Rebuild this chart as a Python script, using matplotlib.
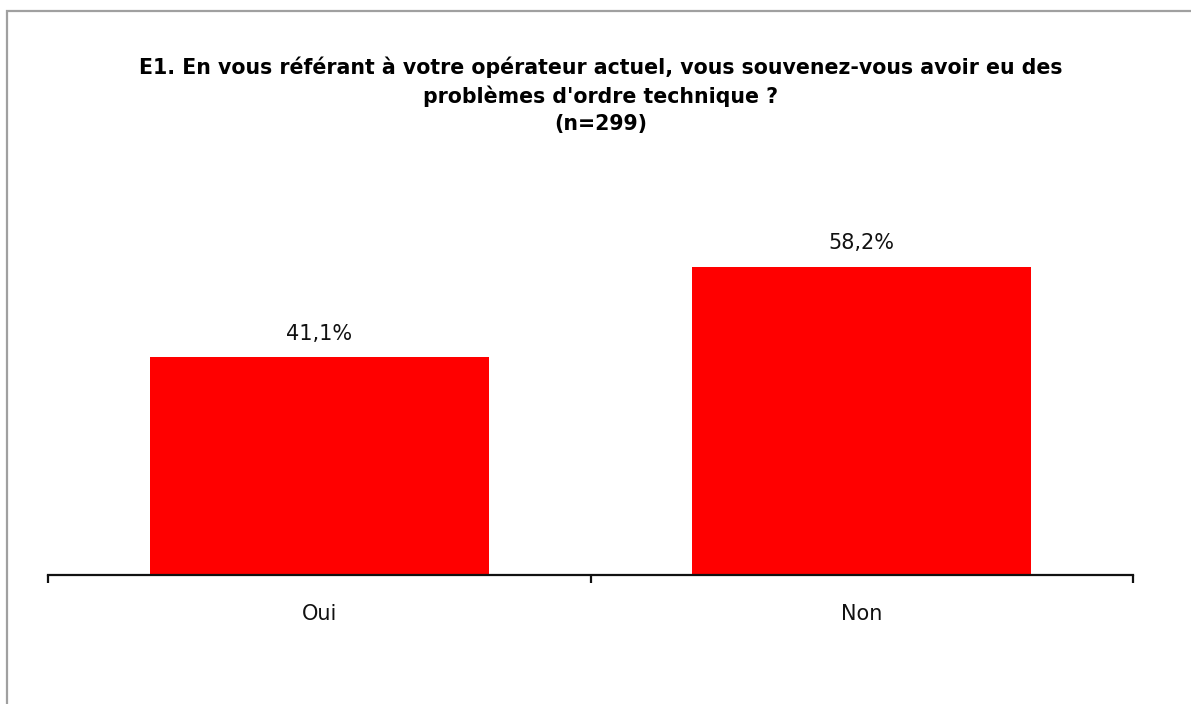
import matplotlib
matplotlib.use("Agg")
import matplotlib.pyplot as plt
from matplotlib.patches import Rectangle

categories = ["Oui", "Non"]
values = [41.1, 58.2]
value_labels = ["41,1%", "58,2%"]
title = ("E1. En vous référant à votre opérateur actuel, vous souvenez-vous avoir eu des\n"
         "problèmes d'ordre technique ?\n(n=299)")

W, H = 1191, 704
fig = plt.figure(figsize=(W / 100, H / 100), dpi=100)
fig.patch.set_facecolor("white")

# plot area in pixel coordinates
left, right, bottom, top = 48, 1133, 575, 204
ax = fig.add_axes([left / W, 1 - bottom / H, (right - left) / W, (bottom - top) / H])

x = list(range(len(categories)))
ax.bar(x, values, width=0.625, color="#ff0000", zorder=2)
ax.set_xlim(-0.5, len(categories) - 0.5)
ax.set_ylim(0, 70)

for xi, v, lab in zip(x, values, value_labels):
    ax.annotate(lab, (xi, v), xytext=(0, 17), textcoords="offset points",
                ha="center", va="center", fontsize=15, color="#111111")

for s in ["left", "right", "top"]:
    ax.spines[s].set_visible(False)
ax.spines["bottom"].set_linewidth(1.6)
ax.spines["bottom"].set_color("#111111")
ax.yaxis.set_visible(False)

# boundary ticks with no labels, category labels on minor ticks
ax.set_xticks([i - 0.5 for i in range(len(categories) + 1)])
ax.set_xticklabels([])
ax.tick_params(axis="x", which="major", direction="out", length=6, width=1.6, color="#111111")
ax.set_xticks(x, minor=True)
ax.set_xticklabels(categories, minor=True, fontsize=15, color="#111111")
ax.tick_params(axis="x", which="minor", length=0, pad=21)

fig.text(601 / W, 1 - 56 / H, title, ha="center", va="top", fontsize=14.8,
         fontweight="bold", linespacing=1.44, color="black")

# outer frame
fig.patches.append(Rectangle((7 / W, -0.1), 1.2, 1.1 - 11 / H, transform=fig.transFigure,
                             fill=False, edgecolor="#a0a0a0", linewidth=1.6, clip_on=False))

fig.savefig("out.png", dpi=100, facecolor="white")
